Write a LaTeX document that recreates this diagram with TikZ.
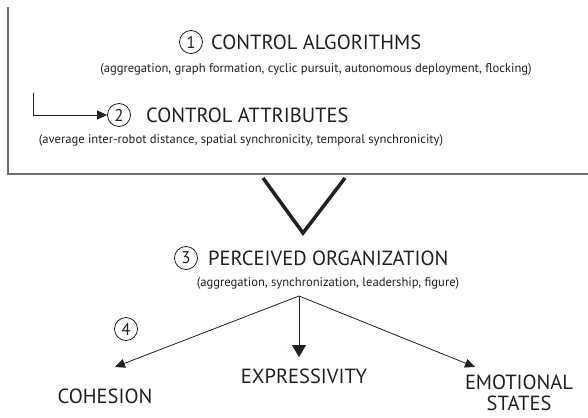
\documentclass[tikz,border=0pt]{standalone}
\usepackage{fontspec}
\setmainfont{PT Sans}
\usetikzlibrary{arrows.meta}
\definecolor{ink}{HTML}{231F20}
\definecolor{rulecol}{HTML}{6D6E71}
\begin{document}
\begin{tikzpicture}[x=1pt,y=-1pt,
  title/.style={text=ink,font=\fontsize{20.5}{22}\selectfont,inner sep=0pt},
  subt/.style={text=ink,font=\fontsize{12.6}{14}\selectfont,inner sep=0pt},
  num/.style={circle,draw=ink,line width=0.8pt,minimum size=23pt,inner sep=0pt,text=ink,font=\fontsize{17}{19}\selectfont},
  thinline/.style={draw=ink,line width=0.8pt},
  tipa/.style={-{Triangle[length=10pt,width=9pt]}},
  tipb/.style={-{Triangle[length=12pt,width=14pt]}}]
\useasboundingbox (0,0) rectangle (588,417);
% frame
\draw[rulecol,line width=1.2pt] (8,7) -- (8,174) -- (588,174);
% step 1
\node[num] (n1) at (191,42) {1};
\node[title,anchor=west] (t1) at (211,42) {CONTROL ALGORITHMS};
\node[subt] (s1) at (316,69) {(aggregation, graph formation, cyclic pursuit, autonomous deployment, flocking)};
% step 2
\coordinate (c2) at (33,93);
\node[num] (n2) at (119,115) {2};
\node[title,anchor=west] (t2) at (146,115) {CONTROL ATTRIBUTES};
\node[subt] (s2) at (241,140) {(average inter-robot distance, spatial synchronicity, temporal synchronicity)};
\draw[thinline,tipa] (c2) |- (n2.west);
% big V
\draw[ink,line width=3.5pt,line join=miter] (263,178) -- (303,233) -- (345,178);
% step 3
\node[num] (n3) at (186,258) {3};
\node[title,anchor=west] (t3) at (208,258) {PERCEIVED ORGANIZATION};
\node[subt] (s3) at (328,283) {(aggregation, synchronization, leadership, figure)};
% step 4
\coordinate (o) at (299,296);
\node[num] (n4) at (126,329) {4};
\coordinate (tc) at (115,367);
\coordinate (te) at (299,357);
\coordinate (ts) at (475,367);
\node[title] (coh) at (105,396) {COHESION};
\node[title] (exp) at (304,376) {EXPRESSIVITY};
\node[title,align=center,font=\fontsize{20.5}{21.5}\selectfont] (emo) at (519,393) {EMOTIONAL\\STATES};
\draw[thinline,tipa] (o) -- (tc);
\draw[thinline,tipb] (o) -- (te);
\draw[thinline,tipa] (o) -- (ts);
\end{tikzpicture}
\end{document}
